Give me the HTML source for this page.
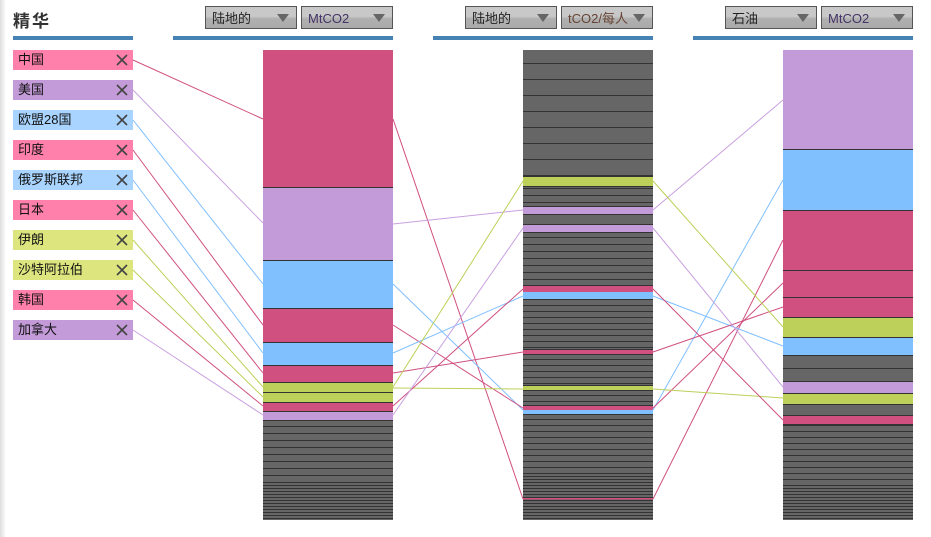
<!DOCTYPE html>
<html><head><meta charset="utf-8"><style>
body{margin:0;width:931px;height:537px;background:#fff;overflow:hidden;font-family:"Liberation Sans","Noto Sans CJK SC",sans-serif;position:relative}
.sh{position:absolute;left:0;top:0;width:6px;height:537px;background:linear-gradient(to right,#ddd,#fff)}
.t{position:absolute;left:13px;top:7px;font-size:17px;font-weight:bold;color:#333;letter-spacing:2px}
.bar{position:absolute;top:36px;height:4px;background:#4682b4}
.dd{position:absolute;top:6px;border:1px solid #555;background:linear-gradient(#c8c8c8 0,#c8c8c8 45%,#b0b0b0 55%,#aaa);font-size:13px;line-height:23px;padding-left:6px;color:#222;box-sizing:border-box;height:23px}
.dd:after{content:"";position:absolute;right:7px;top:7px;border-left:6px solid transparent;border-right:6px solid transparent;border-top:8px solid #666}
.lb{position:absolute;left:13px;width:120px;height:20px;font-size:13px;line-height:20px;padding-left:5px;box-sizing:border-box;color:#111}
</style></head><body>
<div class="sh"></div>
<div class="t">精华</div>
<div class="bar" style="left:13px;width:120px"></div>
<div class="bar" style="left:173px;width:220px"></div>
<div class="bar" style="left:433px;width:220px"></div>
<div class="bar" style="left:693px;width:220px"></div>
<div class="dd" style="left:205px;width:92px">陆地的</div>
<div class="dd" style="left:301px;width:92px;color:#436">MtCO2</div>
<div class="dd" style="left:465px;width:92px">陆地的</div>
<div class="dd" style="left:561px;width:92px;color:#643">tCO2/每人</div>
<div class="dd" style="left:725px;width:92px">石油</div>
<div class="dd" style="left:821px;width:92px;color:#436">MtCO2</div>
<div class="lb" style="top:50px;background:#ff80aa">中国</div>
<div class="lb" style="top:80px;background:#c39bd8">美国</div>
<div class="lb" style="top:110px;background:#a8d4ff">欧盟28国</div>
<div class="lb" style="top:140px;background:#ff80aa">印度</div>
<div class="lb" style="top:170px;background:#a8d4ff">俄罗斯联邦</div>
<div class="lb" style="top:200px;background:#ff80aa">日本</div>
<div class="lb" style="top:230px;background:#dde57e">伊朗</div>
<div class="lb" style="top:260px;background:#dde57e">沙特阿拉伯</div>
<div class="lb" style="top:290px;background:#ff80aa">韩国</div>
<div class="lb" style="top:320px;background:#c39bd8">加拿大</div>
<svg width="931" height="537" style="position:absolute;left:0;top:0">
<defs>
<pattern id="p7" width="10" height="7" patternUnits="userSpaceOnUse"><rect width="10" height="7" fill="#666"/><rect y="6" width="10" height="1" fill="#333"/></pattern>
<pattern id="p3" width="10" height="3" patternUnits="userSpaceOnUse"><rect width="10" height="3" fill="#666"/><rect y="2" width="10" height="1" fill="#333"/></pattern>
<pattern id="p16" width="10" height="16" patternUnits="userSpaceOnUse"><rect width="10" height="16" fill="#666"/><rect y="15" width="10" height="1" fill="#333"/></pattern>
<pattern id="p6" width="10" height="6" patternUnits="userSpaceOnUse"><rect width="10" height="6" fill="#666"/><rect y="5" width="10" height="1" fill="#333"/></pattern>
</defs>
<g stroke="#444" stroke-width="1.6">
<path d="M117 55l10 10M127 55l-10 10M117 85l10 10M127 85l-10 10M117 115l10 10M127 115l-10 10M117 145l10 10M127 145l-10 10M117 175l10 10M127 175l-10 10M117 205l10 10M127 205l-10 10M117 235l10 10M127 235l-10 10M117 265l10 10M127 265l-10 10M117 295l10 10M127 295l-10 10M117 325l10 10M127 325l-10 10"/>
</g>
<g stroke="none">
<!-- col1 -->
<rect x="263" y="50" width="130" height="137" fill="#d05080"/>
<rect x="263" y="187" width="130" height="73" fill="#c39bd8"/>
<rect x="263" y="260" width="130" height="48" fill="#80c0ff"/>
<rect x="263" y="308" width="130" height="34" fill="#d05080"/>
<rect x="263" y="342" width="130" height="23" fill="#80c0ff"/>
<rect x="263" y="365" width="130" height="17" fill="#d05080"/>
<rect x="263" y="382" width="130" height="10" fill="#bcd05a"/>
<rect x="263" y="392" width="130" height="10" fill="#bcd05a"/>
<rect x="263" y="402" width="130" height="9" fill="#d05080"/>
<rect x="263" y="411" width="130" height="9" fill="#c39bd8"/>
<rect x="263" y="420" width="130" height="65" fill="url(#p7)"/>
<rect x="263" y="485" width="130" height="35" fill="url(#p3)"/>
<!-- col2 -->
<rect x="523" y="50" width="130" height="126" fill="url(#p16)"/>
<rect x="523" y="176" width="130" height="10" fill="#bcd05a"/>
<rect x="523" y="186" width="130" height="20" fill="url(#p7)"/>
<rect x="523" y="206" width="130" height="8" fill="#c39bd8"/>
<rect x="523" y="214" width="130" height="10" fill="#666"/>
<rect x="523" y="224" width="130" height="8" fill="#c39bd8"/>
<rect x="523" y="232" width="130" height="53" fill="url(#p7)"/>
<rect x="523" y="285" width="130" height="7" fill="#d05080"/>
<rect x="523" y="292" width="130" height="7" fill="#80c0ff"/>
<rect x="523" y="299" width="130" height="50" fill="url(#p6)"/>
<rect x="523" y="349" width="130" height="5" fill="#d05080"/>
<rect x="523" y="354" width="130" height="31" fill="url(#p6)"/>
<rect x="523" y="385" width="130" height="5" fill="#bcd05a"/>
<rect x="523" y="390" width="130" height="15" fill="url(#p6)"/>
<rect x="523" y="405" width="130" height="5" fill="#d05080"/>
<rect x="523" y="410" width="130" height="4" fill="#80c0ff"/>
<rect x="523" y="414" width="130" height="60" fill="url(#p6)"/>
<rect x="523" y="474" width="130" height="46" fill="url(#p3)"/>
<rect x="523" y="498" width="130" height="1.5" fill="#d05080"/>
<!-- col3 -->
<rect x="783" y="50" width="130" height="99" fill="#c39bd8"/>
<rect x="783" y="149" width="130" height="61" fill="#80c0ff"/>
<rect x="783" y="210" width="130" height="60" fill="#d05080"/>
<rect x="783" y="270" width="130" height="27" fill="#d05080"/>
<rect x="783" y="297" width="130" height="20" fill="#d05080"/>
<rect x="783" y="317" width="130" height="20" fill="#bcd05a"/>
<rect x="783" y="337" width="130" height="18" fill="#80c0ff"/>
<rect x="783" y="355" width="130" height="13" fill="#666"/>
<rect x="783" y="368" width="130" height="13" fill="#666"/>
<rect x="783" y="381" width="130" height="12" fill="#c39bd8"/>
<rect x="783" y="393" width="130" height="11" fill="#bcd05a"/>
<rect x="783" y="404" width="130" height="11" fill="#666"/>
<rect x="783" y="415" width="130" height="9" fill="#d05080"/>
<rect x="783" y="424" width="130" height="62" fill="url(#p6)"/>
<rect x="783" y="486" width="130" height="34" fill="url(#p3)"/>
</g>
<g stroke="#333" stroke-width="1">
<path d="M263 187.5h130M263 260.5h130M263 308.5h130M263 342.5h130M263 365.5h130M263 382.5h130M263 392.5h130M263 402.5h130M263 411.5h130M263 420.5h130"/>
<path d="M523 176.5h130M523 186.5h130M523 206.5h130M523 214.5h130M523 224.5h130M523 232.5h130M523 285.5h130M523 299.5h130M523 349.5h130M523 354.5h130M523 385.5h130M523 390.5h130M523 405.5h130M523 414.5h130"/>
<path d="M783 149.5h130M783 210.5h130M783 270.5h130M783 297.5h130M783 317.5h130M783 337.5h130M783 355.5h130M783 368.5h130M783 381.5h130M783 393.5h130M783 404.5h130M783 415.5h130M783 424.5h130"/>
</g>
<g fill="none" stroke-width="1">
<path d="M133 60L263 119M393 119L523 499M653 499L783 240" stroke="#d05080"/>
<path d="M133 90L263 223M393 224L523 210M653 210L783 100" stroke="#c9a0e0"/>
<path d="M133 120L263 284M393 284L523 410M653 410L783 180" stroke="#80c0ff"/>
<path d="M133 150L263 325M393 325L523 408M653 408L783 283" stroke="#d05080"/>
<path d="M133 180L263 353M393 353L523 296M653 296L783 346" stroke="#80c0ff"/>
<path d="M133 210L263 373M393 373L523 352M653 352L783 307" stroke="#d05080"/>
<path d="M133 240L263 387M393 387L523 181M653 181L783 327" stroke="#bcd05a"/>
<path d="M133 270L263 397M393 388L523 389M653 389L783 398" stroke="#bcd05a"/>
<path d="M133 300L263 406M393 406L523 289M653 289L783 420" stroke="#d05080"/>
<path d="M133 330L263 415M393 415L523 228M653 228L783 387" stroke="#c9a0e0"/>
</g>
</svg>
</body></html>
